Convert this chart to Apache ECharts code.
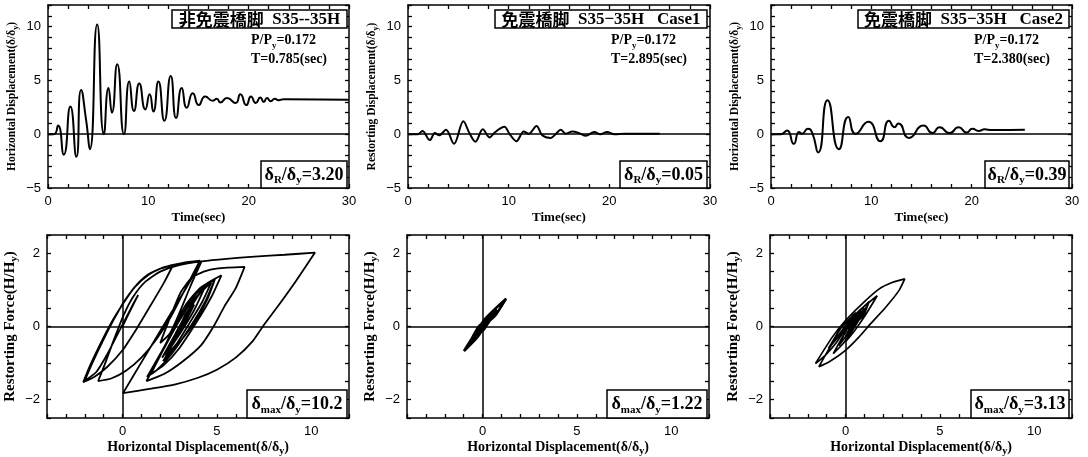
<!DOCTYPE html>
<html><head><meta charset="utf-8">
<script src="https://cdn.jsdelivr.net/npm/echarts@6/dist/echarts.min.js"></script>
<style>html,body{margin:0;padding:0;background:#fff}#c{width:1088px;height:457px}</style>
</head><body><div id="c"></div>
<script>
// ---- tick labels ----
const timeTicks = [0, 10, 20, 30];
const dispTicks = [-5, 0, 5, 10];
const hystXTicks = [0, 5, 10];
const forceTicks = [-2, 0, 2];

// ---- panel texts ----
const headTexts = ['{c|非免震橋脚}{l|  S35--35H}', '{c|免震橋脚}{l|  S35\u221235H   Case1}', '{c|免震橋脚}{l|  S35\u221235H   Case2}'];
const axialRatio = ['0.172', '0.172', '0.172'];
const periods = ['0.785', '2.895', '2.380'];
const resid = ['3.20', '0.05', '0.39'];
const maxDisp = ['10.2', '1.22', '3.13'];

// ---- time histories [t(sec), delta/delta_y] ----
const timeHist1 = [[0,0],[0.6,0],[1.0,0.8],[1.57,-1.9],[2.23,2.56],[2.83,-2.1],[3.3,4.1],[3.8,1.3],[4.17,-1.4],[4.9,10.2],[5.57,0],[6.03,4.3],[6.37,2.0],[6.9,6.5],[7.57,0],[8.1,4.9],[8.57,2.15],[9.1,4.7],[9.7,2.3],[10.13,3.7],[10.5,2.1],[11.0,4.9],[11.6,1.25],[12.23,5.4],[12.77,1.5],[13.33,4.3],[13.83,2.45],[14.43,3.8],[15.03,2.7],[15.67,3.5],[16.43,3.1],[16.83,3.3],[17.17,2.95],[17.83,3.35],[18.7,2.9],[19.17,3.7],[19.77,2.7],[20.23,3.5],[20.7,2.9],[21.17,3.4],[21.5,3.0],[21.83,3.35],[22.2,3.05],[22.6,3.3],[23.0,3.15],[23.5,3.25],[30,3.2]];
const timeHist2 = [[0,0],[1.0,0],[1.43,0.3],[2.17,-0.55],[2.67,0.1],[3.1,-0.1],[3.77,0.4],[4.57,-0.9],[5.5,1.2],[6.1,0.1],[6.7,-0.7],[7.43,0.45],[8.1,-0.3],[8.67,0.2],[9.57,0.7],[10.1,0],[10.77,-0.65],[11.5,0.25],[12.0,0.05],[12.77,0.75],[13.33,-0.1],[14.17,-0.35],[14.67,0],[15.17,0.4],[15.67,0.05],[16.33,0.25],[17.0,0.1],[17.67,-0.15],[18.5,0.2],[19.1,0],[19.77,0.2],[20.5,0],[21.5,0.05],[25.0,0.05]];
const timeHist3 = [[0,0],[1.0,0],[1.6,0.35],[2.27,-0.9],[2.8,0.2],[3.1,0.05],[3.67,0.5],[4.1,0.15],[4.7,-1.7],[5.63,3.15],[6.77,-1.4],[7.7,1.6],[8.43,0.03],[9.7,1.15],[10.9,-0.65],[11.76,1.25],[12.3,0.65],[12.7,1.0],[13.75,-0.35],[15.2,0.8],[16.1,0.1],[16.8,0.65],[17.8,0.1],[18.7,0.65],[19.5,0.15],[20.07,0.5],[20.7,0.3],[21.3,0.45],[22,0.38],[25.3,0.4]];

// ---- hysteresis [delta/delta_y, H/H_y] ----
const hyst1 = [[0,0],[0.4,0.42],[0.83,0.86],
[0.5,0.55],[-0.1,-0.05],[-0.8,-0.75],[-1.4,-1.25],[-2.0,-1.48],
[-1.6,-1.0],[-1.0,-0.35],[-0.45,0.2],[0.1,0.7],[0.7,1.1],[1.4,1.42],[2.0,1.58],[2.68,1.68],
[2.2,1.2],[1.4,0.5],[0.7,-0.1],[0,-0.65],[-0.8,-1.1],[-1.5,-1.38],[-2.08,-1.52],
[-1.75,-1.1],[-1.2,-0.5],[-0.6,0.1],[0.0,0.6],[0.6,1.05],[1.3,1.4],[2.2,1.62],[3.2,1.74],[4.1,1.8],
[3.4,1.1],[2.6,0.3],[1.8,-0.35],[1.0,-0.85],[0.2,-1.2],[-0.6,-1.42],[-1.29,-1.49],
[-0.95,-1.05],[-0.45,-0.35],[0.05,0.3],[0.55,0.8],[1.2,1.22],[2.0,1.5],[3.0,1.68],[4.2,1.78],[5.5,1.85],[7.0,1.91],[8.6,1.96],[10.2,2.02],
[9.2,1.25],[8.3,0.6],[7.5,0.05],[6.9,-0.4],[6.0,-0.85],[5.0,-1.18],[4.0,-1.4],[2.8,-1.58],[1.5,-1.7],[0.03,-1.82],
[1.0,-0.98],[2.14,0],[3.2,0.9],[4.2,1.79],
[3.6,1.1],[3.0,0.35],[2.5,-0.2],[2.0,-0.45],
[2.6,0.35],[3.1,0.95],[3.65,1.32],[4.3,1.5],[5.06,1.59],[6.47,1.63],
[6.0,1.05],[5.4,0.55],[4.88,0.05],[4.18,-0.5],[3.2,-0.95],[2.2,-1.3],[1.27,-1.49],
[1.9,-0.9],[2.6,-0.15],[3.3,0.55],[4.1,1.05],[4.9,1.3],
[4.5,0.75],[3.8,0.1],[3.0,-0.45],[2.15,-0.95],
[2.8,-0.35],[3.5,0.4],[4.1,0.9],[4.7,1.2],
[4.2,0.65],[3.5,0.05],[2.9,-0.45],[2.3,-0.8],
[2.9,-0.2],[3.3,0.3],[3.7,0.6],
[3.3,0.15],[2.7,-0.4],[2.1,-0.85],
[2.8,-0.2],[3.6,0.55],[4.3,1.05],[4.9,1.3],
[4.4,0.7],[3.6,0.0],[2.6,-0.75],[1.8,-1.2],[1.3,-1.38],
[2.0,-0.75],[2.8,0.0],[3.6,0.7],[4.4,1.15],[5.24,1.4],
[4.7,0.8],[3.9,0.1],[3.0,-0.6],[2.2,-1.05],[1.5,-1.3],
[2.2,-0.6],[3.0,0.15],[3.7,0.7],[4.3,1.0],
[3.8,0.45],[3.1,-0.15],[2.45,-0.65],
[3.0,-0.05],[3.4,0.35],[3.8,0.6],
[3.3,0.1],[2.7,-0.4],
[3.1,0.05],[3.5,0.4],
[3.1,0.0],[3.35,0.2],[3.05,-0.05],[3.2,0.02]];
const hyst2 = [[0,0],[0.15,0.17],[0.3,0.18],
[-0.12,-0.18],[-0.55,-0.35],[-0.22,-0.03],[0.1,0.06],[0,-0.09],[-0.1,-0.07],
[0.15,0.19],[0.4,0.25],[-0.25,-0.28],[-0.98,-0.67],[0.13,0.2],[1.25,0.76],
[0.68,0.3],[0.1,0.02],[-0.3,-0.3],[-0.7,-0.45],[-0.12,0.04],[0.45,0.28],
[0.08,-0.08],[-0.3,-0.2],[-0.05,0.06],[0.2,0.12],[0.45,0.36],[0.7,0.43],
[0.02,-0.1],[-0.65,-0.41],[-0.2,0.0],[0.25,0.15],[0.15,0.03],[0.05,0.03],
[0.4,0.32],[0.75,0.46],[0.2,0.02],[-0.35,-0.22],[0.02,0.09],[0.4,0.24],
[0.32,0.15],[0.25,0.15],[0.05,-0.02],[-0.15,-0.1],[0.02,0.1],[0.2,0.12],[0.1,0.0],[0.0,0.0]];
const hyst3 = [[0,0],[0.18,0.15],[0.35,0.22],
[-0.25,-0.2],[-0.9,-0.6],[-0.25,-0.05],[0.4,0.3],[0.25,0.12],[0.1,0.05],
[0.35,0.28],[0.55,0.38],[0.35,0.15],[0.15,0.05],
[-0.5,-0.45],[-1.1,-0.8],[-1.59,-1.01],
[-0.7,-0.29],[0,0.16],[0.88,0.62],[1.77,1.02],[2.47,1.2],[3.14,1.3],
[2.83,0.98],[2.12,0.52],[1.32,0.07],[0.71,-0.29],[0,-0.65],[-0.88,-0.97],[-1.41,-1.1],
[-0.8,-0.55],[-0.1,-0.05],[0.7,0.42],[1.68,0.84],
[1.1,0.35],[0.5,-0.1],[0.03,-0.4],[0.5,0.15],[1.15,0.55],
[0.5,0.0],[-0.1,-0.45],[-0.65,-0.74],[0.1,-0.05],[0.7,0.4],[1.25,0.68],
[0.95,0.3],[0.65,0.15],[0.85,0.4],[1.0,0.5],[0.4,0.0],[-0.35,-0.52],
[0.2,0.05],[0.8,0.45],[0.45,0.08],[0.1,-0.2],[0.4,0.2],[0.65,0.35],
[0.35,0.02],[0.1,-0.18],[0.4,0.2],[0.65,0.35],[0.15,-0.15],[0.5,0.25],
[0.3,0.05],[0.45,0.2],[0.39,0.1]];

const SERIF = '"Liberation Serif","Times New Roman",serif';
const SANS = '"Liberation Sans",Arial,sans-serif';
const CJK = '"Noto Sans CJK JP","Noto Sans CJK SC",sans-serif';

function fmt(labels) {
  return function (v) {
    for (const l of labels) if (Math.abs(l - v) < 1e-6) return l < 0 ? '\u2212' + Math.abs(l) : String(l);
    return '';
  };
}
function nameStyle(size) {
  const ss = Math.round(size * 0.7);
  return {
    color: '#000',
    rich: {
      a: { fontFamily: SERIF, fontWeight: 'bold', fontSize: size, color: '#000', lineHeight: size + 4 },
      s: { fontFamily: SERIF, fontWeight: 'bold', fontSize: ss, color: '#000', verticalAlign: 'bottom', lineHeight: ss + 2 }
    }
  };
}
function axis(gi, position, min, max, step, labels, name, gap, nsize) {
  const main = position === 'bottom' || position === 'left';
  return {
    type: 'value', gridIndex: gi, position: position, min: min, max: max, interval: step,
    axisLine: { show: true, onZero: false, lineStyle: { color: '#000', width: 1.5 } },
    axisTick: { show: true, inside: true, length: 4, lineStyle: { color: '#000', width: 1.3 } },
    axisLabel: { show: main, formatter: fmt(labels), color: '#000', fontFamily: SANS, fontSize: 13, margin: 7 },
    splitLine: { show: false },
    name: main ? name : '', nameLocation: 'middle', nameGap: gap,
    nameRotate: position === 'left' ? 90 : 0,
    nameTextStyle: nameStyle(nsize)
  };
}

const grids = [
  { left: 48, top: 5, width: 301, height: 183 },
  { left: 408, top: 5, width: 302, height: 183 },
  { left: 771, top: 5, width: 301, height: 183 },
  { left: 47, top: 235, width: 302, height: 183 },
  { left: 407, top: 235, width: 302, height: 183 },
  { left: 770, top: 235, width: 302, height: 183 }
];
const yNamesTop = [
  '{a|Horizontal Displacement(δ/δ}{s|y}{a|)}',
  '{a|Restorting Displacement(δ/δ}{s|y}{a|)}',
  '{a|Horizontal Displacement(δ/δ}{s|y}{a|)}'
];
const xAxes = [], yAxes = [], series = [];
for (let i = 0; i < 6; i++) {
  if (i < 3) {
    xAxes.push(axis(i, 'bottom', 0, 30, 2, timeTicks, '{a|Time(sec)}', 21, 13));
    xAxes.push(axis(i, 'top', 0, 30, 2, timeTicks, '', 0, 13));
    yAxes.push(axis(i, 'left', -5, 12, 1, dispTicks, yNamesTop[i], 28, 11.5));
    yAxes.push(axis(i, 'right', -5, 12, 1, dispTicks, '', 0, 11));
  } else {
    xAxes.push(axis(i, 'bottom', -4, 12, 1, hystXTicks, '{a|Horizontal Displacement(δ/δ}{s|y}{a|)}', 20, 14));
    xAxes.push(axis(i, 'top', -4, 12, 1, hystXTicks, '', 0, 14));
    yAxes.push(axis(i, 'left', -2.5, 2.5, 0.5, forceTicks, '{a|Restorting Force(H/H}{s|y}{a|)}', 27, 15));
    yAxes.push(axis(i, 'right', -2.5, 2.5, 0.5, forceTicks, '', 0, 15));
  }
}
const dataSets = [timeHist1, timeHist2, timeHist3, hyst1, hyst2, hyst3];
const smooths = [0.6, 0.35, 0.6, 0.2, 0.2, 0.2];
const widths = [2, 2, 2, 1.8, 2.6, 1.7];
for (let i = 0; i < 6; i++) {
  const ml = i < 3 ? [{ yAxis: 0 }] : [{ yAxis: 0 }, { xAxis: 0 }];
  series.push({
    type: 'line', xAxisIndex: 2 * i, yAxisIndex: 2 * i, data: dataSets[i],
    showSymbol: false, smooth: smooths[i], lineStyle: { color: '#000', width: widths[i] },
    silent: true, z: 3,
    markLine: { silent: true, symbol: ['none', 'none'], label: { show: false },
      lineStyle: { color: '#000', width: 1.5, type: 'solid' }, data: ml, animation: false }
  });
}

const boxRich = {
  m: { fontFamily: SERIF, fontWeight: 'bold', fontSize: 18, lineHeight: 22, fill: '#000', color: '#000' },
  s: { fontFamily: SERIF, fontWeight: 'bold', fontSize: 11, lineHeight: 13, verticalAlign: 'bottom', fill: '#000', color: '#000' }
};
const headRich = {
  c: { fontFamily: CJK, fontWeight: 'bold', fontSize: 17, lineHeight: 18, fill: '#000', color: '#000' },
  l: { fontFamily: SERIF, fontWeight: 'bold', fontSize: 17, lineHeight: 18, fill: '#000', color: '#000' }
};
const pRich = {
  m: { fontFamily: SERIF, fontWeight: 'bold', fontSize: 14, lineHeight: 19, fill: '#000', color: '#000' },
  s: { fontFamily: SERIF, fontWeight: 'bold', fontSize: 9, lineHeight: 12, verticalAlign: 'bottom', fill: '#000', color: '#000' }
};
// box frames [x1, y1, x2, y2] per panel
const headBox = [[172, 10, 347, 28], [495, 10, 707, 28], [858, 10, 1069, 28]];
const residBox = [[261, 161, 347, 188], [620, 161, 707, 188], [985, 161, 1069, 188]];
const maxBox = [[247, 390, 347, 418], [607, 390, 707, 418], [971, 390, 1069, 418]];
const pPos = [[251, 31], [611, 31], [974, 31]];

const graphics = [];
function boxed(b, text, rich) {
  graphics.push({ type: 'rect', z: 10, shape: { x: b[0], y: b[1], width: b[2] - b[0], height: b[3] - b[1] },
    style: { fill: '#fff', stroke: '#000', lineWidth: 1.5 } });
  graphics.push({ type: 'text', z: 11, x: (b[0] + b[2]) / 2, y: (b[1] + b[3]) / 2 + 0.5,
    style: { text: text, rich: rich, align: 'center', verticalAlign: 'middle', textAlign: 'center', textVerticalAlign: 'middle', fill: '#000' } });
}
for (let i = 0; i < 3; i++) {
  boxed(headBox[i], headTexts[i], headRich);
  boxed(residBox[i], '{m|δ}{s|R}{m|/δ}{s|y}{m|=' + resid[i] + '}', boxRich);
  boxed(maxBox[i], '{m|δ}{s|max}{m|/δ}{s|y}{m|=' + maxDisp[i] + '}', boxRich);
  graphics.push({ type: 'text', z: 11, x: pPos[i][0], y: pPos[i][1],
    style: { text: '{m|P/P}{s|y}{m|=' + axialRatio[i] + '}\n{m|T=' + periods[i] + '(sec)}', rich: pRich,
      align: 'left', verticalAlign: 'top', textAlign: 'left', textVerticalAlign: 'top', fill: '#000' } });
}

const chart = echarts.init(document.getElementById('c'));
chart.setOption({
  animation: false,
  backgroundColor: '#fff',
  grid: grids,
  xAxis: xAxes,
  yAxis: yAxes,
  series: series,
  graphic: graphics
});
</script>
</body></html>
